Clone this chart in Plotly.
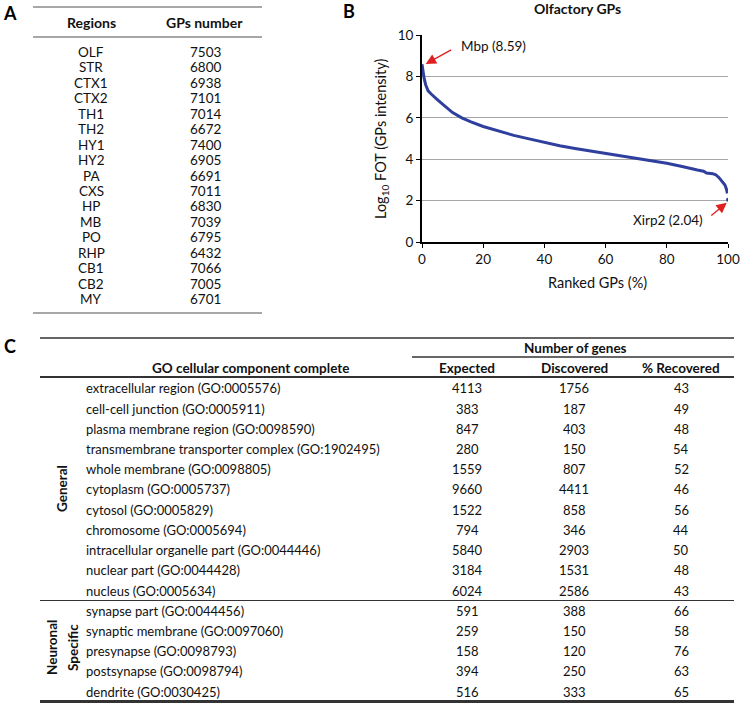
import plotly.graph_objects as go

# ---------------- data ----------------
regions = ["OLF", "STR", "CTX1", "CTX2", "TH1", "TH2", "HY1", "HY2", "PA",
           "CXS", "HP", "MB", "PO", "RHP", "CB1", "CB2", "MY"]
gps_number = [7503, 6800, 6938, 7101, 7014, 6672, 7400, 6905, 6691,
              7011, 6830, 7039, 6795, 6432, 7066, 7005, 6701]

rank_pct = [0, 0.3, 0.7, 1.2, 2, 3, 4, 5, 7, 10, 13, 16, 20, 25, 30, 35, 40,
            45, 50, 55, 60, 65, 70, 75, 80, 85, 88, 90, 92, 93, 95, 96, 97,
            98, 99, 99.5, 99.8]
log_fot = [8.59, 8.2, 7.9, 7.6, 7.3, 7.15, 7.0, 6.88, 6.62, 6.25, 6.0, 5.8,
           5.58, 5.35, 5.15, 4.98, 4.8, 4.65, 4.52, 4.4, 4.29, 4.18, 4.06,
           3.94, 3.8, 3.65, 3.57, 3.48, 3.42, 3.33, 3.3, 3.25, 3.12, 2.95,
           2.75, 2.55, 2.35]
min_point = (100, 2.04)

general_terms = [
    "extracellular region (GO:0005576)",
    "cell-cell junction (GO:0005911)",
    "plasma membrane region (GO:0098590)",
    "transmembrane transporter complex (GO:1902495)",
    "whole membrane (GO:0098805)",
    "cytoplasm (GO:0005737)",
    "cytosol (GO:0005829)",
    "chromosome (GO:0005694)",
    "intracellular organelle part (GO:0044446)",
    "nuclear part (GO:0044428)",
    "nucleus (GO:0005634)",
]
neuronal_terms = [
    "synapse part (GO:0044456)",
    "synaptic membrane (GO:0097060)",
    "presynapse (GO:0098793)",
    "postsynapse (GO:0098794)",
    "dendrite (GO:0030425)",
]
expected = [4113, 383, 847, 280, 1559, 9660, 1522, 794, 5840, 3184, 6024,
            591, 259, 158, 394, 516]
discovered = [1756, 187, 403, 150, 807, 4411, 858, 346, 2903, 1531, 2586,
              388, 150, 120, 250, 333]
recovered = [43, 49, 48, 54, 52, 46, 56, 44, 50, 48, 43,
             66, 58, 76, 63, 65]

# ---------------- layout helpers ----------------
W, H = 740, 703
FONT = "Lato"
TXT = "#111111"


def px(x):
    return x / W


def py(y):
    return 1 - y / H


annotations = []
shapes = []


def text(x, y, s, size=13, bold=False, anchor="center", angle=0, color=TXT):
    if bold:
        s = "<b>" + s + "</b>"
    annotations.append(dict(
        xref="paper", yref="paper", x=px(x), y=py(y), text=s,
        showarrow=False, xanchor=anchor, yanchor="middle", textangle=angle,
        font=dict(family=FONT, size=size, color=color)))


def hline(x0, x1, y, width=1.2, color="#333333"):
    shapes.append(dict(type="line", xref="paper", yref="paper",
                       x0=px(x0), x1=px(x1), y0=py(y), y1=py(y),
                       line=dict(color=color, width=width)))


# ---------------- panel letters ----------------
text(10, 13, "A", size=18, bold=True, color="#000")
text(349, 11, "B", size=18, bold=True, color="#000")
text(10, 346, "C", size=18, bold=True, color="#000")

# ---------------- panel A table ----------------
hline(33, 262, 7, width=1.5, color="#8a8a8a")
text(91, 23, "Regions", size=14, bold=True)
text(204, 23, "GPs number", size=14, bold=True)
hline(33, 262, 37, width=1.5, color="#8a8a8a")
for i, (r, n) in enumerate(zip(regions, gps_number)):
    yy = 52 + i * 15.44
    text(91, yy, r, size=13.5)
    text(205, yy, str(n), size=13.5)
hline(33, 262, 313, width=1.5, color="#8a8a8a")

# ---------------- panel C table ----------------
hline(40, 734, 338, width=1.3)
text(575, 348, "Number of genes", size=13.5, bold=True)
hline(412, 734, 357, width=1.3)
text(250, 368, "GO cellular component complete", size=13.5, bold=True)
text(467, 368, "Expected", size=13.5, bold=True)
text(574, 368, "Discovered", size=13.5, bold=True)
text(681, 368, "% Recovered", size=13.5, bold=True)
hline(40, 734, 377, width=2)
terms = general_terms + neuronal_terms
for i, term in enumerate(terms):
    yy = 388.3 + i * 20.22
    text(84, yy, term, anchor="left")
    text(467, yy, str(expected[i]))
    text(574, yy, str(discovered[i]))
    text(681, yy, str(recovered[i]))
hline(40, 734, 600.5, width=1.2)
hline(40, 734, 701.5, width=3)
text(62, 489, "General", size=13.5, bold=True, angle=-90)
text(52, 648, "Neuronal", size=13.5, bold=True, angle=-90)
text(73, 648, "Specific", size=13.5, bold=True, angle=-90)

# ---------------- panel B chart ----------------
fig = go.Figure()
fig.add_trace(go.Scatter(x=rank_pct, y=log_fot, mode="lines",
                         line=dict(color="#2f3f9e", width=3),
                         showlegend=False, hoverinfo="skip"))
fig.add_trace(go.Scatter(x=[min_point[0]], y=[min_point[1]], mode="markers",
                         marker=dict(color="#2f3f9e", size=4),
                         showlegend=False, hoverinfo="skip"))

# title / axis titles
text(577, 9, "Olfactory GPs", size=14, bold=True)
text(597, 283, "Ranked GPs (%)", size=14.5)
text(381, 139, "Log<sub>10</sub> FOT (GPs intensity)", size=14.5, angle=-90)

# arrows
annotations.append(dict(xref="x", yref="y", x=1.2, y=8.6, ax=27, ay=-15,
                        text="", showarrow=True, arrowhead=2, arrowsize=1.6,
                        arrowwidth=1.3, arrowcolor="#e02020"))
text(459, 46, "Mbp (8.59)", size=13.5, anchor="left")
annotations.append(dict(xref="x", yref="y", x=99.6, y=1.9, ax=-17, ay=14,
                        text="", showarrow=True, arrowhead=2, arrowsize=1.6,
                        arrowwidth=1.3, arrowcolor="#e02020"))
text(705, 220, "Xirp2 (2.04)", size=13.5, anchor="right")

fig.update_layout(
    width=W, height=H,
    margin=dict(l=0, r=0, t=0, b=0, pad=0, autoexpand=False),
    paper_bgcolor="white", plot_bgcolor="white",
    font=dict(family=FONT, size=12, color=TXT),
    xaxis=dict(domain=[px(422), px(728)], range=[0, 100], dtick=20,
               showgrid=False, zeroline=False, showline=True,
               linecolor="black", linewidth=2, ticks="outside", ticklen=4,
               tickcolor="black", tickfont=dict(family=FONT, size=13.5),
               automargin=False),
    yaxis=dict(domain=[py(242), py(35)], range=[0, 10], dtick=2,
               showgrid=True, gridcolor="#a6a6a6", gridwidth=1,
               zeroline=False, showline=True, linecolor="black",
               linewidth=2, ticks="outside", ticklen=4, tickcolor="black",
               tickfont=dict(family=FONT, size=13.5), automargin=False),
    annotations=annotations,
    shapes=shapes,
)

fig.write_html(
    "out.html",
    config={"displayModeBar": False},
    post_script="document.body.style.margin='0';"
                "document.body.style.overflow='hidden';",
)
